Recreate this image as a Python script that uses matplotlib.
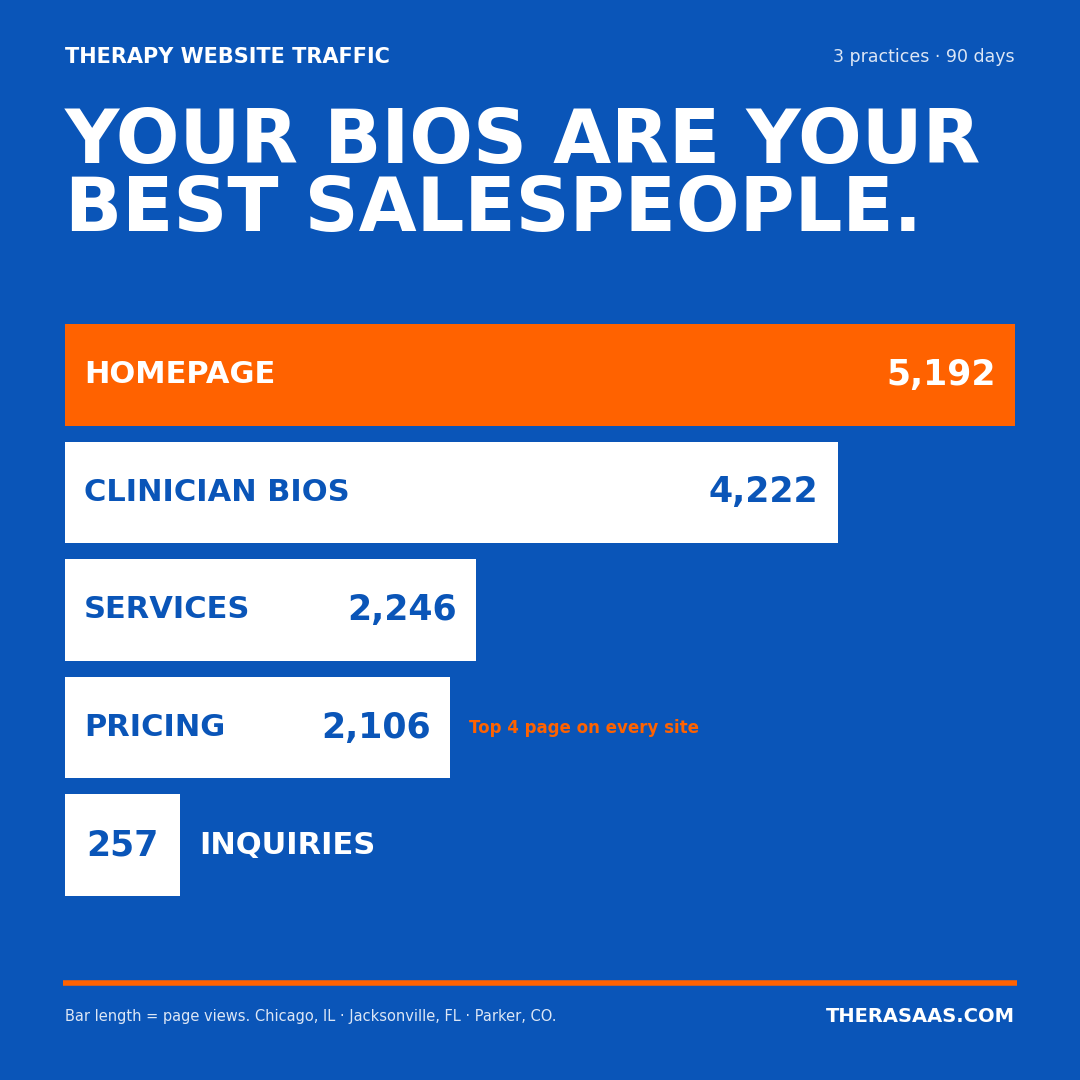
import matplotlib.pyplot as plt

BG = '#0A55B8'
ORANGE = '#FF6200'
WHITE = '#FFFFFF'

pages = ['HOMEPAGE', 'CLINICIAN BIOS', 'SERVICES', 'PRICING', 'INQUIRIES']
views = [5192, 4222, 2246, 2106, 257]
min_bar = 630  # smallest bar drawn wide enough to hold its number

W = H = 1080
fig = plt.figure(figsize=(10.8, 10.8), dpi=100, facecolor=BG)
bg = fig.add_axes([0, 0, 1, 1])
bg.set_xlim(0, W)
bg.set_ylim(H, 0)
bg.axis('off')

bg.text(65, 57, 'THERAPY WEBSITE TRAFFIC', color=WHITE, fontsize=15,
        fontweight='heavy', va='center', ha='left')
bg.text(1015, 57, '3 practices · 90 days', color='#DCE6F5', fontsize=12.5,
        va='center', ha='right')
bg.text(65, 142, 'YOUR BIOS ARE YOUR', color=WHITE, fontsize=54,
        fontweight='heavy', va='center', ha='left')
bg.text(65, 211, 'BEST SALESPEOPLE.', color=WHITE, fontsize=54,
        fontweight='heavy', va='center', ha='left')

# bars axis: data coordinates are page views
ax = fig.add_axes([65 / W, 1 - 896 / H, 950 / W, (896 - 324) / H])
ax.set_facecolor(BG)
ax.axis('off')
ax.set_xlim(0, max(views))
ys = list(range(len(pages)))
ax.set_ylim(len(pages) - 1 + 0.434, -0.434)
widths = [max(v, min_bar) for v in views]
colors = [ORANGE] + [WHITE] * (len(pages) - 1)
ax.barh(ys, widths, height=0.868, color=colors, align='center')

pad = 105
for i, (p, v, w) in enumerate(zip(pages, views, widths)):
    txt = WHITE if i == 0 else BG
    num = f'{v:,}'
    if i == len(pages) - 1:
        ax.text(w / 2, i, num, color=BG, fontsize=25, fontweight='heavy',
                ha='center', va='center')
        ax.text(w + pad, i, p, color=WHITE, fontsize=22, fontweight='heavy',
                ha='left', va='center')
    else:
        ax.text(pad, i, p, color=txt, fontsize=22, fontweight='heavy',
                ha='left', va='center')
        ax.text(w - pad, i, num, color=txt, fontsize=25, fontweight='heavy',
                ha='right', va='center')

ax.text(views[3] + 100, 3, 'Top 4 page on every site', color=ORANGE,
        fontsize=12, fontweight='bold', ha='left', va='center')

bg.plot([63, 1017], [983, 983], color=ORANGE, lw=4, solid_capstyle='butt')
bg.text(65, 1016, 'Bar length = page views. Chicago, IL · Jacksonville, FL · Parker, CO.',
        color='#DCE6F5', fontsize=10.5, va='center', ha='left')
bg.text(1015, 1016, 'THERASAAS.COM', color=WHITE, fontsize=14,
        fontweight='heavy', va='center', ha='right')

fig.savefig('out.png', dpi=100, facecolor=BG)
